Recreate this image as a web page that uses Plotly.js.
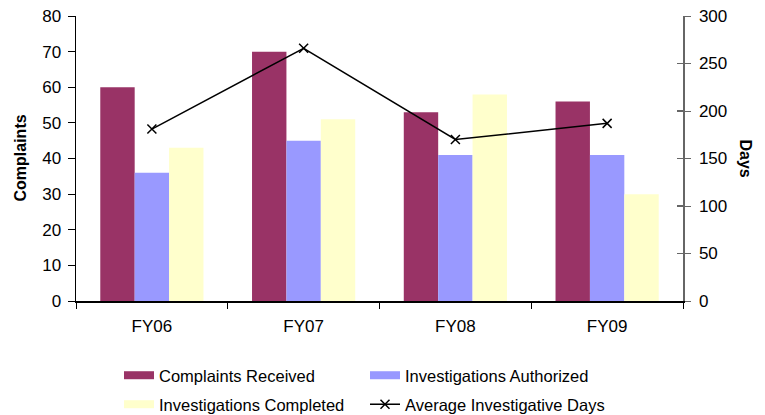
<!DOCTYPE html>
<html><head><meta charset="utf-8">
<script src="https://cdn.plot.ly/plotly-3.0.1.min.js"></script>
<style>body{margin:0;background:#fff}#chart{width:765px;height:415px}</style>
</head><body><div id="chart"></div>
<script>
const categories = ['FY06', 'FY07', 'FY08', 'FY09'];
const complaintsReceived = [60, 70, 53, 56];
const investigationsAuthorized = [36, 45, 41, 41];
const investigationsCompleted = [43, 51, 58, 30];
const averageInvestigativeDays = [181, 266, 170, 187];
const seriesNames = ['Complaints Received', 'Investigations Authorized', 'Investigations Completed', 'Average Investigative Days'];
const colors = ['#993366', '#9999FF', '#FFFFCC', '#000000'];

const fam = 'Liberation Sans, Arial, sans-serif';
const font = {family: fam, size: 16, color: '#000'};
const tickFont = {family: fam, size: 17, color: '#000'};
const legendFont = {family: fam, size: 16.5, color: '#000'};

const barSeries = [complaintsReceived, investigationsAuthorized, investigationsCompleted];
const traces = [];
barSeries.forEach((vals, i) => {
  traces.push({type: 'bar', x: categories, y: vals, name: seriesNames[i],
    marker: {color: colors[i], line: {width: 0}}, showlegend: false, hoverinfo: 'y'});
});
traces.push({type: 'scatter', mode: 'lines+markers', x: categories, y: averageInvestigativeDays,
  name: seriesNames[3], yaxis: 'y2', line: {color: '#000', width: 1.5},
  marker: {symbol: 'x-thin', size: 9, line: {color: '#000', width: 1.5}}, showlegend: false});
// empty trace so the inner tick marks of the right axis are drawn
traces.push({type: 'scatter', mode: 'lines', x: [null], y: [null], yaxis: 'y3', showlegend: false, hoverinfo: 'skip'});
// legend entries (wide swatches like the original)
seriesNames.forEach((n, i) => {
  const lg = i < 2 ? 'legend' : 'legend2';
  if (i < 3) {
    traces.push({type: 'scatter', mode: 'lines', x: [null], y: [null], name: n, legend: lg,
      line: {color: colors[i], width: 8}, showlegend: true, hoverinfo: 'skip'});
  } else {
    traces.push({type: 'scatter', mode: 'lines+markers', x: [null], y: [null], name: n, yaxis: 'y2', legend: lg,
      line: {color: '#000', width: 1.5}, marker: {symbol: 'x-thin', size: 9, line: {color: '#000', width: 1.5}},
      showlegend: true, hoverinfo: 'skip'});
  }
});

const legendBase = {orientation: 'h', xref: 'container', yref: 'container', x: 119/765,
  xanchor: 'left', yanchor: 'top', entrywidth: 201, font: legendFont, traceorder: 'normal',
  bgcolor: 'rgba(0,0,0,0)'};

const layout = {
  width: 765, height: 415,
  margin: {l: 76, r: 82, t: 16, b: 114},
  paper_bgcolor: '#fff', plot_bgcolor: '#fff',
  font: font,
  barmode: 'group', bargap: 0.32, bargroupgap: 0,
  showlegend: true,
  legend: Object.assign({}, legendBase, {y: 1 - 358/415}),
  legend2: Object.assign({}, legendBase, {y: 1 - 387/415}),
  xaxis: {type: 'category', showline: true, linecolor: '#000', linewidth: 1.5,
    ticks: 'outside', ticklen: 6, tickcolor: '#000', tickson: 'boundaries',
    showgrid: false, zeroline: false, tickfont: tickFont, ticklabelstandoff: 9},
  yaxis: {range: [0, 80], dtick: 10, showline: true, linecolor: '#000', linewidth: 1.5,
    ticks: 'outside', ticklen: 7, tickcolor: '#000', showgrid: false, zeroline: false,
    tickfont: tickFont, ticklabelstandoff: 3},
  yaxis2: {range: [0, 300], dtick: 50, overlaying: 'y', side: 'right', showline: true,
    linecolor: '#666', linewidth: 1.5, ticks: 'outside', ticklen: 6, tickcolor: '#666',
    showgrid: false, zeroline: false, tickfont: tickFont, ticklabelstandoff: 5},
  yaxis3: {range: [0, 300], dtick: 50, overlaying: 'y', side: 'right', showline: false,
    ticks: 'inside', ticklen: 6, tickcolor: '#666', tickwidth: 1.5, showticklabels: false,
    showgrid: false, zeroline: false},
  annotations: [
    {text: '<b>Complaints</b>', xref: 'paper', yref: 'paper', x: (20 - 76) / 607, y: 0.5, textangle: -90,
      xanchor: 'center', yanchor: 'middle', showarrow: false, font: {family: fam, size: 16, color: '#000'}},
    {text: '<b>Days</b>', xref: 'paper', yref: 'paper', x: (745 - 76) / 607, y: 0.5, textangle: 90,
      xanchor: 'center', yanchor: 'middle', showarrow: false, font: {family: fam, size: 16, color: '#000'}}
  ]
};
Plotly.newPlot('chart', traces, layout, {displayModeBar: false, staticPlot: true});
</script></body></html>
